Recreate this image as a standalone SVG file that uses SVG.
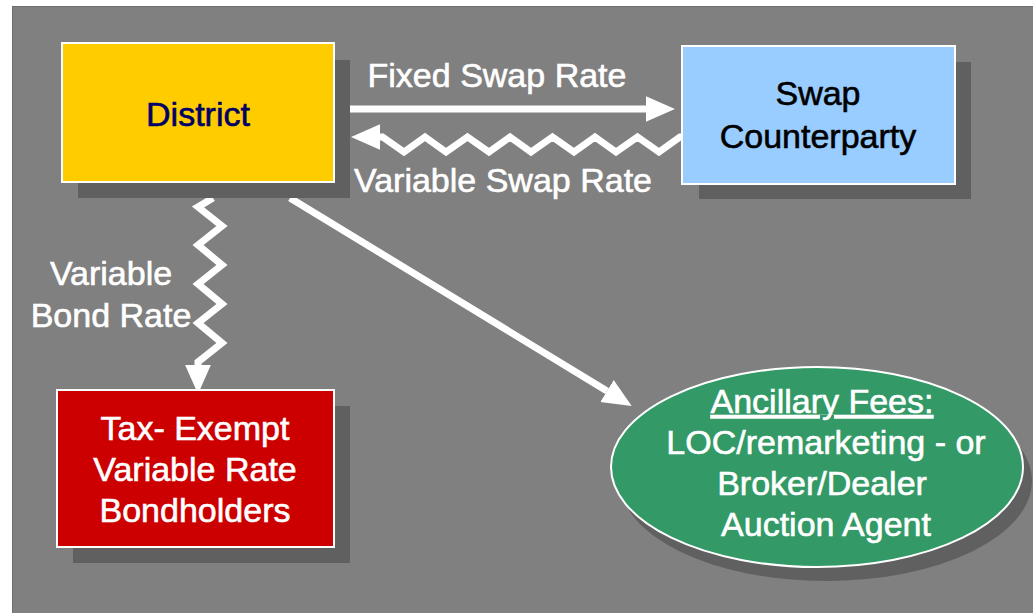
<svg xmlns="http://www.w3.org/2000/svg" width="1033" height="613" viewBox="0 0 1033 613">
<style>
text{font-family:"Liberation Sans",Arial,sans-serif;font-size:34px;text-anchor:middle;stroke-width:0.6}
.shadow{fill:#606060}
.box{stroke:#ffffff;stroke-width:2}
.conn{fill:none;stroke:#ffffff;stroke-width:7;stroke-linejoin:miter}
.w{fill:#ffffff;stroke:#ffffff}
.navy{fill:#000066;stroke:#000066}
.blk{fill:#000000;stroke:#000000}
</style>
<defs>
<marker id="ah" markerUnits="userSpaceOnUse" markerWidth="30" markerHeight="30" viewBox="0 -13 28 26" refX="0" refY="0" orient="auto">
<path d="M0,-12 L27,0 L0,12 z" fill="#ffffff"/>
</marker>
</defs>
<rect x="0" y="0" width="1033" height="613" fill="#ffffff"/>
<rect x="12.5" y="6.5" width="1030" height="620" fill="#808080" stroke="#6e6e6e" stroke-width="1"/>

<g id="connectors">
<line class="conn" x1="350" y1="109" x2="646" y2="109" marker-end="url(#ah)"/>
<path class="conn" d="M683,137 L680,137 L659,152 L637.5,137 L616,152 L595,137 L574,152 L552.5,137 L531,152 L510,137 L489,152 L467.5,137 L446,152 L425,137 L404,152 L382.5,137 L380,137" marker-end="url(#ah)"/>
<path class="conn" d="M213,198 L198,207 L222,226 L198,245 L222,265 L198,284 L222,304 L198,323 L222,343 L198,362 L198,365" marker-end="url(#ah)"/>
<line class="conn" x1="290" y1="198" x2="607" y2="391" marker-end="url(#ah)"/>
<text class="w" x="497" y="87">Fixed Swap Rate</text>
<text class="w" x="503" y="192">Variable Swap Rate</text>
<text class="w" x="111" y="285">Variable</text>
<text class="w" x="111" y="327">Bond Rate</text>
</g>

<g id="district">
<rect class="shadow" x="78" y="60" width="272" height="138"/>
<rect class="box" x="62" y="43" width="272" height="139" fill="#ffcc00"/>
<text class="navy" x="198" y="126">District</text>
</g>

<g id="swap-counterparty">
<rect class="shadow" x="699" y="62" width="272" height="137"/>
<rect class="box" x="682" y="46" width="273" height="138" fill="#99ccff"/>
<text class="blk" x="818" y="105">Swap</text>
<text class="blk" x="818" y="148">Counterparty</text>
</g>

<g id="bondholders">
<rect class="shadow" x="73" y="406" width="277" height="157"/>
<rect class="box" x="57" y="390" width="277" height="157" fill="#cc0000"/>
<text class="w" x="195" y="440">Tax- Exempt</text>
<text class="w" x="195" y="481">Variable Rate</text>
<text class="w" x="195" y="522">Bondholders</text>
</g>

<g id="ancillary-fees">
<ellipse class="shadow" cx="826" cy="481" rx="206" ry="100"/>
<ellipse class="box" cx="817" cy="467" rx="206" ry="100" fill="#339966"/>
<text class="w" x="822" y="413" text-decoration="underline">Ancillary Fees:</text>
<text class="w" x="826" y="454">LOC/remarketing - or</text>
<text class="w" x="822" y="495">Broker/Dealer</text>
<text class="w" x="826" y="536">Auction Agent</text>
</g>
</svg>
